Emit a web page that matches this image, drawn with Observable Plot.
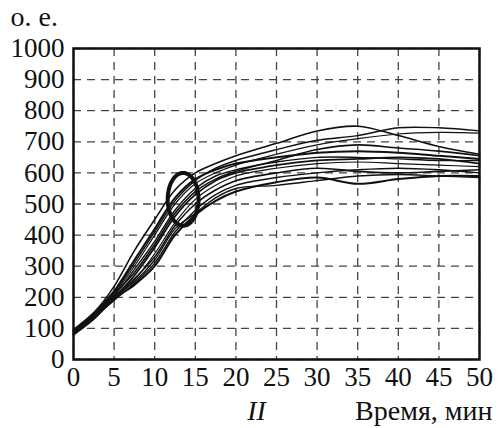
<!DOCTYPE html>
<html><head><meta charset="utf-8">
<script src="https://cdn.jsdelivr.net/npm/d3@7"></script>
<script src="https://cdn.jsdelivr.net/npm/@observablehq/plot@0.6"></script>
<style>
html,body{margin:0;padding:0;background:#fff;}
#chart svg{display:block;}
</style></head>
<body><div id="chart"></div>
<script>
const times = [0, 2.5, 5, 7.5, 10, 12.5, 15, 17.5, 20, 25, 30, 35, 40, 45, 50];
const curve1  = [95, 150, 235, 350, 450, 545, 600, 630, 655, 695, 735, 750, 720, 685, 660];
const curve2  = [90, 145, 215, 310, 410, 510, 575, 615, 640, 675, 705, 720, 745, 745, 735];
const curve3  = [85, 140, 210, 300, 400, 500, 565, 600, 625, 660, 690, 710, 725, 730, 728];
const curve4  = [95, 150, 220, 320, 420, 520, 580, 610, 630, 650, 665, 670, 665, 655, 645];
const curve5  = [90, 145, 205, 290, 380, 480, 550, 590, 610, 635, 650, 650, 645, 640, 640];
const curve6  = [85, 140, 200, 270, 360, 460, 530, 575, 600, 625, 640, 645, 650, 645, 630];
const curve7  = [80, 135, 195, 255, 340, 440, 515, 560, 590, 615, 630, 635, 630, 625, 620];
const curve8  = [90, 140, 200, 260, 330, 430, 500, 545, 575, 600, 615, 605, 600, 605, 610];
const curve9  = [85, 135, 190, 245, 310, 410, 480, 530, 560, 585, 600, 610, 615, 610, 600];
const curve10 = [80, 130, 195, 240, 300, 400, 465, 510, 540, 570, 585, 565, 580, 590, 590];
const curve11 = [90, 145, 200, 250, 320, 420, 470, 520, 550, 560, 575, 590, 595, 590, 585];
const curve12 = [88, 138, 210, 280, 370, 470, 540, 580, 605, 640, 675, 690, 680, 670, 655];
const curves = [curve1, curve2, curve3, curve4, curve5, curve6, curve7, curve8, curve9, curve10, curve11, curve12];
const curveWidths = [1.6, 1.4, 1.2, 2.0, 1.4, 1.8, 1.2, 1.6, 1.4, 2.0, 1.4, 1.6];

const xTicks = [0, 5, 10, 15, 20, 25, 30, 35, 40, 45, 50];
const yTicks = [0, 100, 200, 300, 400, 500, 600, 700, 800, 900, 1000];

// ellipse annotation: center and radii in data units
const ellipseCenter = {t: 13.5, v: 515};
const ellipseRadii = {t: 1.9, v: 85};

const rows = [];
curves.forEach((c, i) => c.forEach((v, j) => rows.push({id: i, t: times[j], v})));

const ellipse = d3.range(0, 361, 5).map(a => ({
  t: ellipseCenter.t + ellipseRadii.t * Math.cos(a * Math.PI / 180),
  v: ellipseCenter.v + ellipseRadii.v * Math.sin(a * Math.PI / 180)
}));

const font = "'Liberation Serif', 'Times New Roman', serif";
const fs = 28;
const tfs = 27;

const chart = Plot.plot({
  width: 501,
  height: 428,
  marginLeft: 73,
  marginTop: 48,
  marginRight: 22,
  marginBottom: 69,
  style: {fontFamily: font, fontSize: fs + "px", color: "#111", background: "#fff"},
  x: {domain: [0, 50]},
  y: {domain: [0, 1000]},
  marks: [
    Plot.gridX(xTicks, {stroke: "#444", strokeOpacity: 1, strokeWidth: 1.3, strokeDasharray: "8,6"}),
    Plot.gridY(yTicks, {stroke: "#444", strokeOpacity: 1, strokeWidth: 1.3, strokeDasharray: "8,6"}),
    ...curves.map((c, i) => Plot.line(rows.filter(r => r.id === i), {
      x: "t", y: "v", stroke: "#111", strokeWidth: curveWidths[i], curve: "catmull-rom"
    })),
    Plot.line(ellipse, {x: "t", y: "v", stroke: "#111", strokeWidth: 4, curve: "linear-closed"}),
    Plot.frame({stroke: "#111", strokeWidth: 2.5}),
    Plot.axisX(xTicks, {tickSize: 0, tickPadding: 7, fontSize: tfs, tickFormat: "d", label: null}),
    Plot.axisY(yTicks, {tickSize: 0, tickPadding: 9, fontSize: tfs, tickFormat: "d", label: null}),
    Plot.text(["о. е."], {frameAnchor: "top-left", dx: -63, dy: -31, textAnchor: "start", lineAnchor: "middle", fontSize: fs}),
    Plot.text(["Время, мин"], {frameAnchor: "bottom-right", dx: 13, dy: 52, textAnchor: "end", lineAnchor: "middle", fontSize: fs}),
    Plot.text(["II"], {frameAnchor: "bottom", dx: -20, dy: 52, textAnchor: "middle", lineAnchor: "middle", fontSize: fs, fontStyle: "italic"})
  ]
});
document.getElementById("chart").appendChild(chart);
</script></body></html>
